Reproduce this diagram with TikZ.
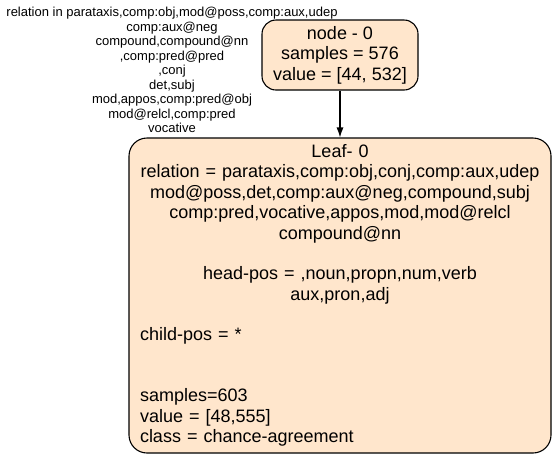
\documentclass[tikz,border=0pt]{standalone}
\usepackage{fontspec}
\setmainfont{Liberation Sans}
\usetikzlibrary{arrows.meta}
\definecolor{leafbg}{HTML}{FFE6CC}
\newcommand{\lline}[1]{\makebox[\linewidth][l]{#1}}

\begin{document}
\begin{tikzpicture}[x=1pt,y=-1pt,
        treenode/.style={draw,line width=1.1pt,fill=leafbg,rounded corners=14pt,align=center,
            font=\fontsize{18}{20.36}\selectfont,inner sep=0pt},
        edgelabel/.style={align=center,inner sep=0pt,font=\fontsize{13}{14.5}\selectfont},
        edgearrow/.style={-{Latex[length=10pt,width=7pt]},line width=1.1pt}
    ]

    \useasboundingbox (0,0) rectangle (556,459);

    \node[treenode,minimum width=156pt,minimum height=70pt] (node0) at (340,55)
        {node - 0\\samples = 576\\value = [44, 532]};

    \node[treenode,rounded corners=18pt,text width=400pt,minimum width=422pt,minimum height=315pt] (leaf0) at (340,295.5)
        {Leaf- 0\\
        relation = parataxis,comp:obj,conj,comp:aux,udep\\
        mod@poss,det,comp:aux@neg,compound,subj\\
        comp:pred,vocative,appos,mod,mod@relcl\\
        compound@nn\\
        \mbox{}\\
        head-pos = ,noun,propn,num,verb\\
        aux,pron,adj\\
        \mbox{}\\
        \lline{child-pos = *}\\
        \mbox{}\\
        \mbox{}\\
        \lline{samples=603}\\
        \lline{value = [48,555]}\\
        \lline{class = chance-agreement}};

    \draw[edgearrow] (node0) -- (leaf0);

    \node[edgelabel] (rel0) at (172,70)
        {relation in parataxis,comp:obj,mod@poss,comp:aux,udep\\
        comp:aux@neg\\
        compound,compound@nn\\
        ,comp:pred@pred\\
        ,conj\\
        det,subj\\
        mod,appos,comp:pred@obj\\
        mod@relcl,comp:pred\\
        vocative};

\end{tikzpicture}
\end{document}
